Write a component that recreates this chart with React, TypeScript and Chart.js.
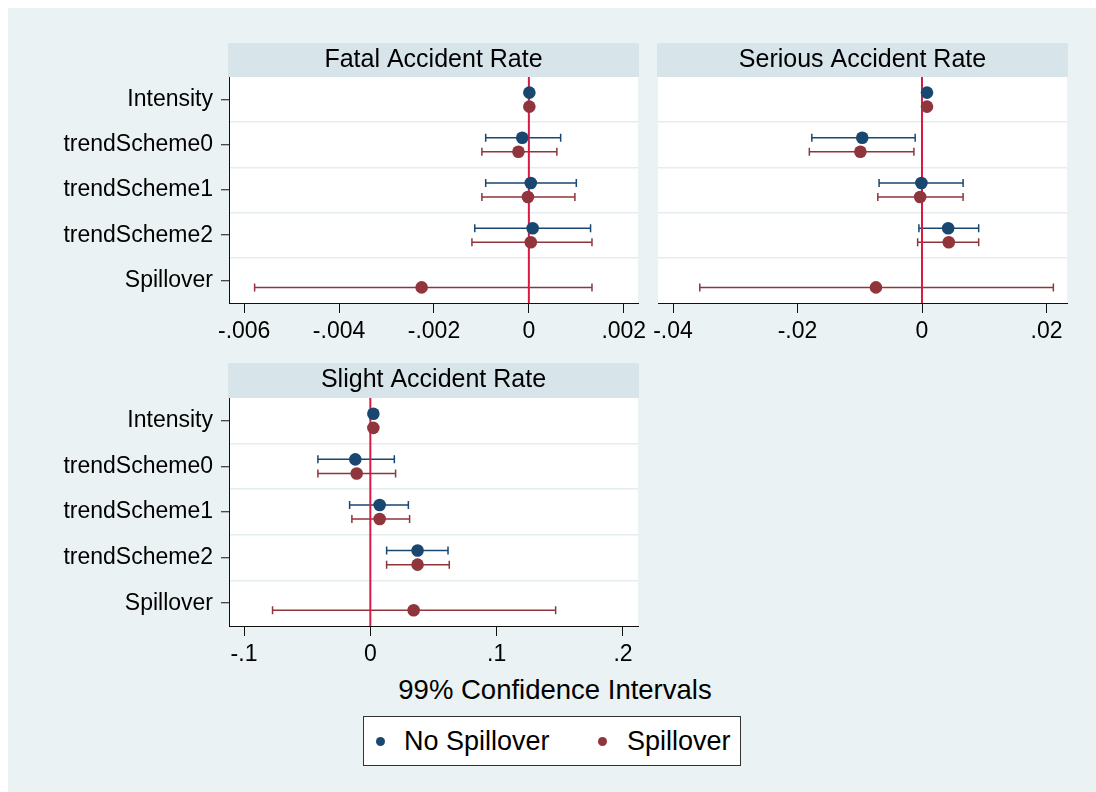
import React, { useEffect, useRef } from 'react';
import { Chart, registerables } from 'chart.js';

Chart.register(...registerables);

const FONT = "'Liberation Sans', Arial, Helvetica, sans-serif";

// ---- data ----
const categories = ['Intensity', 'trendScheme0', 'trendScheme1', 'trendScheme2', 'Spillover'];
const seriesNames = ['No Spillover', 'Spillover'];

const fatalTicks = [-0.006, -0.004, -0.002, 0, 0.002];
const fatalNoSpill = [0.00001, -0.00014, 0.00004, 0.00008, null];
const fatalNoSpillLo = [-0.00001, -0.00091, -0.00091, -0.00114, null];
const fatalNoSpillHi = [0.00003, 0.00067, 0.001, 0.0013, null];
const fatalSpill = [0.00001, -0.00022, -0.00002, 0.00004, -0.00226];
const fatalSpillLo = [-0.00001, -0.00099, -0.00099, -0.0012, -0.00578];
const fatalSpillHi = [0.00003, 0.00059, 0.00097, 0.00133, 0.00133];

const seriousTicks = [-0.04, -0.02, 0, 0.02];
const seriousNoSpill = [0.0008, -0.0096, -0.0001, 0.0042, null];
const seriousNoSpillLo = [0.0004, -0.0177, -0.0069, -0.0005, null];
const seriousNoSpillHi = [0.0012, -0.0011, 0.0066, 0.0091, null];
const seriousSpill = [0.0008, -0.0099, -0.0003, 0.0043, -0.0074];
const seriousSpillLo = [0.0004, -0.0181, -0.0071, -0.0007, -0.0357];
const seriousSpillHi = [0.0012, -0.0013, 0.0066, 0.0091, 0.0211];

const slightTicks = [-0.1, 0, 0.1, 0.2];
const slightNoSpill = [0.0024, -0.0119, 0.0074, 0.0374, null];
const slightNoSpillLo = [0.001, -0.0415, -0.0164, 0.0129, null];
const slightNoSpillHi = [0.0038, 0.019, 0.0301, 0.0615, null];
const slightSpill = [0.0024, -0.0108, 0.0074, 0.0374, 0.0343];
const slightSpillLo = [0.001, -0.0415, -0.0146, 0.0129, -0.0774];
const slightSpillHi = [0.0038, 0.02, 0.0311, 0.0625, 0.1467];

// ---- styles ----
const BG = '#EAF2F3';
const BAND = '#D7E4EA';
const GRID = '#E4EDF0';
const BLUE = '#1A476F';
const RED = '#90353B';
const ZERO = '#D91A45';
const AXIS = '#111111';
const ROW_OFFSET = 0.155;

function fmtTick(v: number): string {
  if (Math.abs(v) < 1e-12) return '0';
  const s = String(v);
  return s.replace('0.', '.');
}

function buildPoints(vals: (number | null)[], lo: (number | null)[], hi: (number | null)[], off: number) {
  const pts: any[] = [];
  vals.forEach((v, i) => {
    if (v === null) return;
    pts.push({ x: v, y: i + 1 + off, lo: lo[i], hi: hi[i] });
  });
  return pts;
}

const decorPlugin = {
  id: 'decor',
  beforeDraw(chart: any) {
    const { ctx, chartArea } = chart;
    ctx.save();
    ctx.fillStyle = '#FFFFFF';
    ctx.fillRect(chartArea.left, chartArea.top, chartArea.right - chartArea.left, chartArea.bottom - chartArea.top);
    const tb = chart.titleBlock;
    if (tb) {
      ctx.fillStyle = BAND;
      ctx.fillRect(chartArea.left - 1, tb.top, chartArea.right - chartArea.left + 2, tb.height);
    }
    ctx.restore();
  },
  beforeDatasetsDraw(chart: any) {
    const { ctx, chartArea } = chart;
    const xs = chart.scales.x;
    const ys = chart.scales.y;
    ctx.save();
    chart.data.datasets.forEach((ds: any) => {
      ctx.strokeStyle = ds.barColor;
      ctx.lineWidth = 1.5;
      ds.data.forEach((p: any) => {
        const py = ys.getPixelForValue(p.y);
        const xl = xs.getPixelForValue(p.lo);
        const xh = xs.getPixelForValue(p.hi);
        ctx.beginPath();
        ctx.moveTo(xl, py);
        ctx.lineTo(xh, py);
        ctx.moveTo(xl, py - 4);
        ctx.lineTo(xl, py + 4);
        ctx.moveTo(xh, py - 4);
        ctx.lineTo(xh, py + 4);
        ctx.stroke();
      });
    });
    const x0 = xs.getPixelForValue(0);
    ctx.strokeStyle = ZERO;
    ctx.lineWidth = 2;
    ctx.beginPath();
    ctx.moveTo(x0, chartArea.top);
    ctx.lineTo(x0, chartArea.bottom);
    ctx.stroke();
    ctx.restore();
  },
};

type PanelSpec = {
  title: string;
  ticks: number[];
  min: number;
  max: number;
  noSpill: (number | null)[];
  noSpillLo: (number | null)[];
  noSpillHi: (number | null)[];
  spill: (number | null)[];
  spillLo: (number | null)[];
  spillHi: (number | null)[];
  left: number;
  top: number;
  width: number;
  height: number;
  yWidth: number;
  padRight: number;
  padTop: number;
  titlePadTop: number;
  titlePadBottom: number;
  xHeight: number;
  showYLabels: boolean;
};

function Panel({ spec }: { spec: PanelSpec }) {
  const ref = useRef<HTMLCanvasElement>(null);
  useEffect(() => {
    if (!ref.current) return;
    const rowTicks = [1, 1.5, 2, 2.5, 3, 3.5, 4, 4.5, 5];
    const chart = new Chart(ref.current, {
      type: 'scatter',
      data: {
        datasets: [
          {
            label: seriesNames[0],
            data: buildPoints(spec.noSpill, spec.noSpillLo, spec.noSpillHi, -ROW_OFFSET),
            backgroundColor: BLUE,
            borderColor: BLUE,
            pointRadius: 6.3,
            pointBorderWidth: 0,
            barColor: BLUE,
          } as any,
          {
            label: seriesNames[1],
            data: buildPoints(spec.spill, spec.spillLo, spec.spillHi, ROW_OFFSET),
            backgroundColor: RED,
            borderColor: RED,
            pointRadius: 6.3,
            pointBorderWidth: 0,
            barColor: RED,
          } as any,
        ],
      },
      options: {
        responsive: false,
        animation: false,
        events: [],
        layout: { padding: { left: 0, right: spec.padRight, top: spec.padTop, bottom: 0 } },
        plugins: {
          legend: { display: false },
          tooltip: { enabled: false },
          title: {
            display: true,
            text: spec.title,
            fullSize: false,
            color: '#000',
            font: { family: FONT, size: 25, weight: 'normal', lineHeight: 1.2 },
            padding: { top: spec.titlePadTop, bottom: spec.titlePadBottom },
          },
        },
        scales: {
          x: {
            type: 'linear',
            min: spec.min,
            max: spec.max,
            afterBuildTicks: (scale: any) => {
              scale.ticks = spec.ticks.map((v) => ({ value: v }));
            },
            afterFit: (scale: any) => {
              scale.height = spec.xHeight;
              scale.paddingLeft = 0;
              scale.paddingRight = 0;
            },
            ticks: {
              autoSkip: false,
              maxRotation: 0,
              color: '#000',
              padding: 5,
              font: { family: FONT, size: 23 },
              callback: (v: any) => fmtTick(Number(v)),
            },
            grid: {
              drawOnChartArea: false,
              drawTicks: true,
              tickLength: 10,
              tickColor: AXIS,
              tickWidth: 1,
            },
            border: { display: true, color: AXIS, width: 1 },
          },
          y: {
            type: 'linear',
            min: 0.5,
            max: 5.5,
            reverse: true,
            afterBuildTicks: (scale: any) => {
              scale.ticks = rowTicks.map((v) => ({ value: v }));
            },
            afterFit: (scale: any) => {
              scale.width = spec.yWidth;
              scale.paddingTop = 0;
              scale.paddingBottom = 0;
            },
            ticks: {
              display: spec.showYLabels,
              autoSkip: false,
              color: '#000',
              padding: 8,
              font: { family: FONT, size: 23 },
              callback: (v: any) => {
                const n = Number(v);
                return Number.isInteger(n) ? categories[n - 1] : '';
              },
            },
            grid: {
              drawOnChartArea: true,
              drawTicks: spec.showYLabels,
              tickLength: 8,
              lineWidth: 1.5,
              color: (ctx: any) =>
                ctx.tick && Number.isInteger(ctx.tick.value) ? 'rgba(0,0,0,0)' : GRID,
              tickColor: (ctx: any) =>
                ctx.tick && Number.isInteger(ctx.tick.value) ? AXIS : 'rgba(0,0,0,0)',
              tickWidth: 1,
            },
            border: { display: spec.showYLabels, color: AXIS, width: 1 },
          },
        },
      } as any,
      plugins: [decorPlugin],
    });
    return () => chart.destroy();
  }, [spec]);
  return (
    <canvas
      ref={ref}
      width={spec.width}
      height={spec.height}
      style={{ position: 'absolute', left: spec.left, top: spec.top, width: spec.width, height: spec.height }}
    />
  );
}

const panels: PanelSpec[] = [
  {
    title: 'Fatal Accident Rate',
    ticks: fatalTicks,
    min: -0.00632,
    max: 0.0023,
    noSpill: fatalNoSpill,
    noSpillLo: fatalNoSpillLo,
    noSpillHi: fatalNoSpillHi,
    spill: fatalSpill,
    spillLo: fatalSpillLo,
    spillHi: fatalSpillHi,
    left: 0,
    top: 32,
    width: 660,
    height: 310,
    yWidth: 221,
    padRight: 30,
    padTop: 3,
    titlePadTop: 2,
    titlePadBottom: 2,
    xHeight: 47,
    showYLabels: true,
  },
  {
    title: 'Serious Accident Rate',
    ticks: seriousTicks,
    min: -0.04241,
    max: 0.02329,
    noSpill: seriousNoSpill,
    noSpillLo: seriousNoSpillLo,
    noSpillHi: seriousNoSpillHi,
    spill: seriousSpill,
    spillLo: seriousSpillLo,
    spillHi: seriousSpillHi,
    left: 640,
    top: 32,
    width: 448,
    height: 310,
    yWidth: 10,
    padRight: 29,
    padTop: 3,
    titlePadTop: 2,
    titlePadBottom: 2,
    xHeight: 47,
    showYLabels: false,
  },
  {
    title: 'Slight Accident Rate',
    ticks: slightTicks,
    min: -0.11188,
    max: 0.2119,
    noSpill: slightNoSpill,
    noSpillLo: slightNoSpillLo,
    noSpillHi: slightNoSpillHi,
    spill: slightSpill,
    spillLo: slightSpillLo,
    spillHi: slightSpillHi,
    left: 0,
    top: 352,
    width: 660,
    height: 313,
    yWidth: 221,
    padRight: 30,
    padTop: 3,
    titlePadTop: 2,
    titlePadBottom: 3,
    xHeight: 47,
    showYLabels: true,
  },
];

export default function App() {
  return (
    <div
      style={{
        position: 'fixed',
        left: 8,
        top: 8,
        width: 1100,
        height: 800,
        background: BG,
        fontFamily: FONT,
        overflow: 'hidden',
      }}
    >
      {panels.map((p) => (
        <Panel key={p.title} spec={p} />
      ))}
      <div
        style={{
          position: 'absolute',
          left: 0,
          width: 1094,
          top: 666,
          height: 32,
          lineHeight: '32px',
          fontSize: 27.5,
          textAlign: 'center',
          color: '#000',
        }}
      >
        99% Confidence Intervals
      </div>
      <div
        style={{
          position: 'absolute',
          left: 355,
          top: 708,
          width: 376,
          height: 48,
          border: '1px solid #333',
          background: '#fff',
          fontSize: 27,
          color: '#000',
        }}
      >
        <span
          style={{
            position: 'absolute',
            left: 12,
            top: 19.5,
            width: 9,
            height: 9,
            borderRadius: '50%',
            background: BLUE,
          }}
        />
        <span style={{ position: 'absolute', left: 40, top: 0, lineHeight: '48px', whiteSpace: 'nowrap' }}>
          {seriesNames[0]}
        </span>
        <span
          style={{
            position: 'absolute',
            left: 234,
            top: 19.5,
            width: 9,
            height: 9,
            borderRadius: '50%',
            background: RED,
          }}
        />
        <span style={{ position: 'absolute', left: 263, top: 0, lineHeight: '48px', whiteSpace: 'nowrap' }}>
          {seriesNames[1]}
        </span>
      </div>
    </div>
  );
}
